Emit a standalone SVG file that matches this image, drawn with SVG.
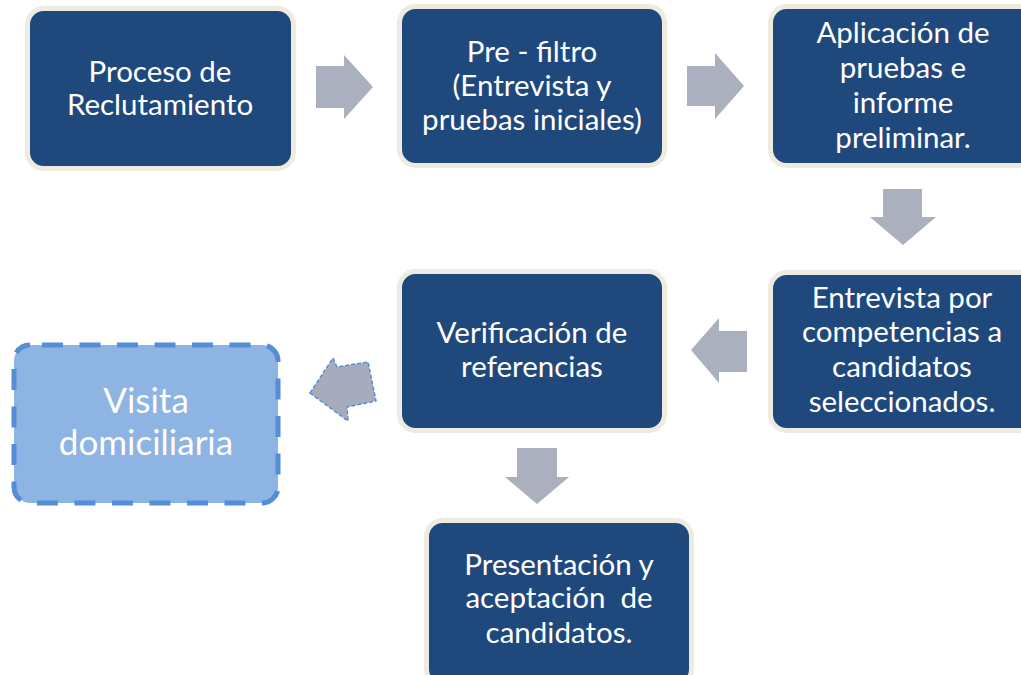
<svg xmlns="http://www.w3.org/2000/svg" width="1021" height="675" viewBox="0 0 1021 675">
<style>
.box{fill:#1f497d;stroke:#eeece1;stroke-width:5}
.t{font-family:Lato,"Open Sans","Liberation Sans",sans-serif;font-size:29.5px;fill:#ffffff;text-anchor:middle;white-space:pre}
.arr{fill:#abb0be}
</style>
<rect width="1021" height="675" fill="#ffffff"/>
<g id="connectors">
<path class="arr" d="M316,66 H344 V55 L373,87 L344,119 V108 H316 Z"/>
<path class="arr" d="M687,66 H715 V53 L744,86 L715,119 V106 H687 Z"/>
<path class="arr" d="M883,189 H922 V217 H936 L903,245 L870,217 H883 Z"/>
<path class="arr" d="M747,331 V372 H719 V383 L691,350 L719,318 V331 Z"/>
<path class="arr" d="M517,448 H557 V477 H569 L537,504 L505,477 H517 Z"/>
<path d="M310,393 L333,358 L337,367 L368,362 L376,401 L347,407 L348,421 Z" fill="#a6acbc" stroke="#558ed5" stroke-width="1.5" stroke-dasharray="4,2"/>
</g>
<g id="n1">
<rect class="box" x="27.5" y="8.5" width="266" height="160" rx="16"/>
<text class="t" x="160" y="82">Proceso de</text>
<text class="t" x="160" y="115">Reclutamiento</text>
</g>
<g id="n2">
<rect class="box" x="399.5" y="6.5" width="265" height="159" rx="16"/>
<text class="t" x="532" y="62">Pre - filtro</text>
<text class="t" x="532" y="96">(Entrevista y</text>
<text class="t" x="532" y="130">pruebas iniciales)</text>
</g>
<g id="n3">
<rect class="box" x="770.5" y="6.5" width="265" height="159" rx="16"/>
<text class="t" x="903" y="43">Aplicación de</text>
<text class="t" x="903" y="78">pruebas e</text>
<text class="t" x="903" y="113">informe</text>
<text class="t" x="903" y="148">preliminar.</text>
</g>
<g id="n4">
<rect class="box" x="770.5" y="272.5" width="265" height="158" rx="16"/>
<text class="t" x="902" y="308">Entrevista por</text>
<text class="t" x="902" y="342">competencias a</text>
<text class="t" x="902" y="377">candidatos</text>
<text class="t" x="902" y="412">seleccionados.</text>
</g>
<g id="n5">
<rect class="box" x="399.5" y="271.5" width="265" height="159" rx="16"/>
<text class="t" x="532" y="343">Verificación de</text>
<text class="t" x="532" y="377">referencias</text>
</g>
<g id="n6">
<rect x="14" y="345" width="264" height="158" rx="16" fill="#8eb4e3" stroke="#558ed5" stroke-width="5" stroke-dasharray="21,16.5" stroke-dashoffset="25.5"/>
<text class="t" x="146" y="413" style="font-size:35px">Visita</text>
<text class="t" x="146" y="455" style="font-size:35px">domiciliaria</text>
</g>
<g id="n7">
<rect class="box" x="426.5" y="520.5" width="265" height="165" rx="16"/>
<text class="t" x="559" y="575">Presentación y</text>
<text class="t" x="559" y="608" xml:space="preserve">aceptación  de</text>
<text class="t" x="559" y="643">candidatos.</text>
</g>
</svg>
